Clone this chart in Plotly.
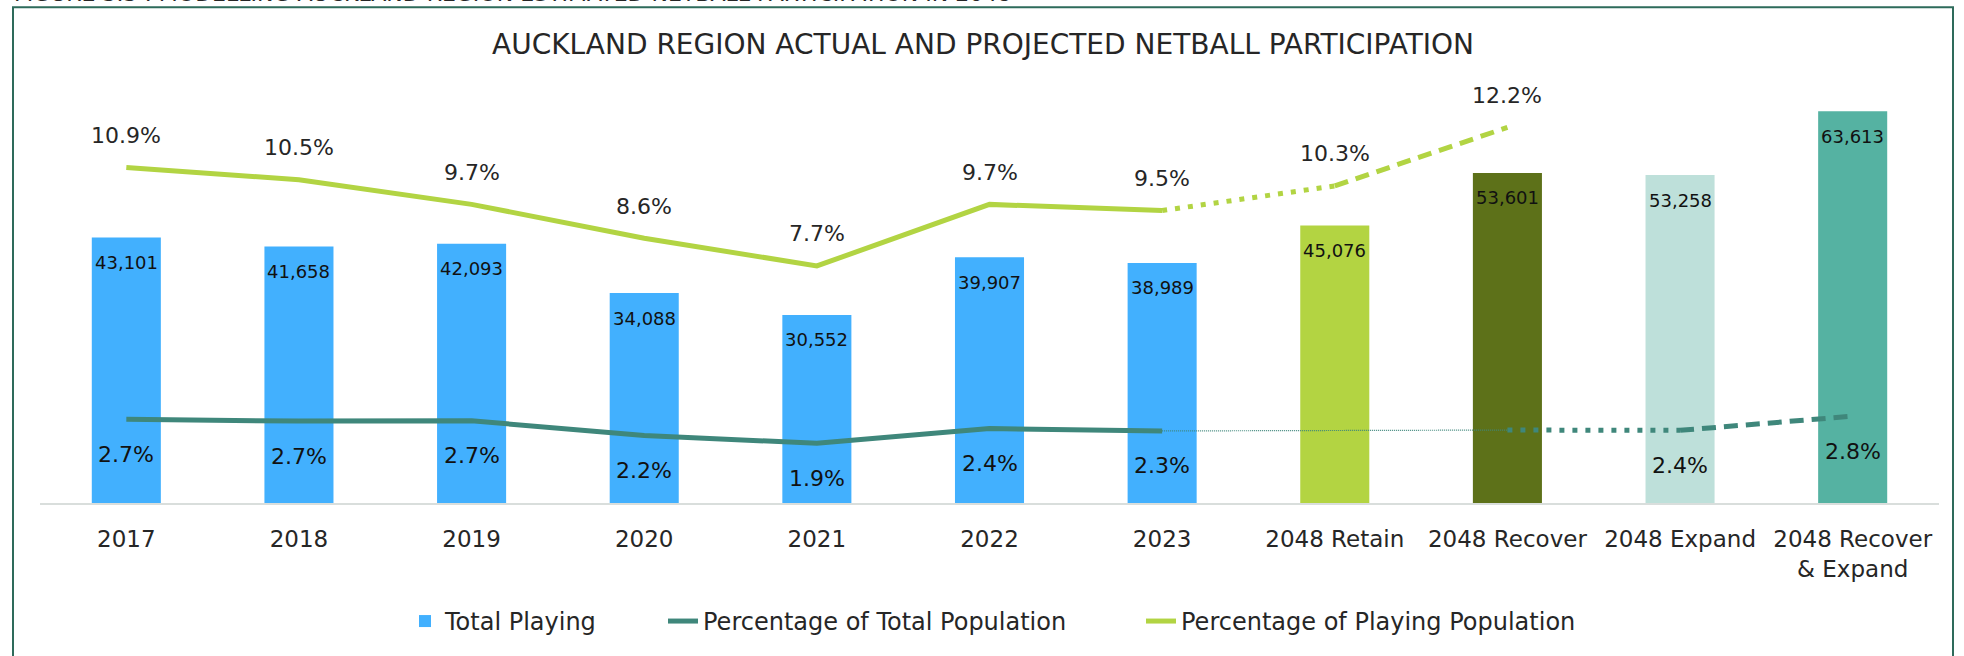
import plotly.graph_objects as go

# ---------------- data ----------------
categories = ["2017", "2018", "2019", "2020", "2021", "2022", "2023",
              "2048 Retain", "2048 Recover", "2048 Expand", "2048 Recover<br>& Expand"]
total_playing = [43101, 41658, 42093, 34088, 30552, 39907, 38989,
                 45076, 53601, 53258, 63613]
bar_colors = ["#42B0FE"] * 7 + ["#B3D442", "#5D7119", "#BEE0DA", "#55B2A2"]

# percentage of total population (None = no point)
pct_total_pop = [2.72, 2.66, 2.67, 2.19, 1.94, 2.42, 2.34, None, 2.37, 2.36, 2.82]
pct_total_labels_idx = [0, 1, 2, 3, 4, 5, 6, 9, 10]

# percentage of playing population
pct_playing_pop = [10.9, 10.5, 9.7, 8.6, 7.7, 9.7, 9.5, 10.3, 12.2, None, None]
pct_playing_labels_idx = [0, 1, 2, 3, 4, 5, 6, 7, 8]

caption = "FIGURE 3.3 : MODELLING AUCKLAND REGION ESTIMATED NETBALL PARTICIPATION IN 2048"
title = "AUCKLAND REGION ACTUAL AND PROJECTED NETBALL PARTICIPATION"

# ---------------- styles ----------------
FONT = "DejaVu Sans"
TXT = "#262626"
TEAL = "#3F877B"
GREEN = "#B2D443"
W, H = 1964, 656
ML, MR, MT, MB = 40, 25, 72, 151
PW, PH = W - ML - MR, H - MT - MB


def px_x(px):
    return (px - ML) / PW


def px_y(py):
    return (H - MB - py) / PH


def seg(vals, i0, i1):
    xs, ys = [], []
    for i in range(i0, i1 + 1):
        if vals[i] is not None:
            xs.append(categories[i])
            ys.append(vals[i])
    return xs, ys


fig = go.Figure()

fig.add_trace(go.Bar(
    x=categories, y=total_playing, name="Total Playing",
    marker=dict(color=bar_colors, line=dict(width=0)),
    yaxis="y", hoverinfo="x+y", legend="legend"))

# Percentage of total population
x, y = seg(pct_total_pop, 0, 6)
fig.add_trace(go.Scatter(x=x, y=y, mode="lines", name="Percentage of Total Population",
                         line=dict(color=TEAL, width=5), yaxis="y2", legend="legend2"))
x, y = seg(pct_total_pop, 6, 8)
fig.add_trace(go.Scatter(x=x, y=y, mode="lines", showlegend=False,
                         line=dict(color=TEAL, width=1.2, dash="1px,1px"), yaxis="y2"))
x, y = seg(pct_total_pop, 8, 9)
fig.add_trace(go.Scatter(x=x, y=y, mode="lines", showlegend=False,
                         line=dict(color=TEAL, width=5, dash="5px,8px"), yaxis="y2"))
x, y = seg(pct_total_pop, 9, 10)
fig.add_trace(go.Scatter(x=x, y=y, mode="lines", showlegend=False,
                         line=dict(color=TEAL, width=5, dash="14px,8px"), yaxis="y2"))

# Percentage of playing population
x, y = seg(pct_playing_pop, 0, 6)
fig.add_trace(go.Scatter(x=x, y=y, mode="lines", name="Percentage of Playing Population",
                         line=dict(color=GREEN, width=5), yaxis="y2", legend="legend3"))
x, y = seg(pct_playing_pop, 6, 7)
fig.add_trace(go.Scatter(x=x, y=y, mode="lines", showlegend=False,
                         line=dict(color=GREEN, width=5, dash="5px,8px"), yaxis="y2"))
x, y = seg(pct_playing_pop, 7, 8)
fig.add_trace(go.Scatter(x=x, y=y, mode="lines", showlegend=False,
                         line=dict(color=GREEN, width=5, dash="14px,8px"), yaxis="y2"))

annotations = []
# on a category axis, annotations take the category's serial number
for i, v in enumerate(total_playing):
    annotations.append(dict(x=i, y=v, xref="x", yref="y", text=f"{v:,}",
                            showarrow=False, yshift=-25, yanchor="middle",
                            font=dict(family=FONT, size=18, color="#111111")))
for i in pct_playing_labels_idx:
    annotations.append(dict(x=i, y=pct_playing_pop[i], xref="x", yref="y2",
                            text=f"{pct_playing_pop[i]:.1f}%", showarrow=False,
                            yshift=32, yanchor="middle",
                            font=dict(family=FONT, size=22, color=TXT)))
for i in pct_total_labels_idx:
    annotations.append(dict(x=i, y=pct_total_pop[i], xref="x", yref="y2",
                            text=f"{pct_total_pop[i]:.1f}%", showarrow=False,
                            yshift=-35, yanchor="middle",
                            font=dict(family=FONT, size=22, color="#111111")))
# clipped caption at very top
annotations.append(dict(x=px_x(12), y=px_y(8), xref="paper", yref="paper", text=caption,
                        showarrow=False, xanchor="left", yanchor="bottom",
                        font=dict(family=FONT, size=22, color=TXT)))

legend_common = dict(orientation="h", yanchor="middle", y=px_y(624), xanchor="left",
                     font=dict(family=FONT, size=24, color=TXT),
                     bgcolor="rgba(0,0,0,0)", borderwidth=0)

fig.update_layout(
    width=W, height=H,
    margin=dict(l=ML, r=MR, t=MT, b=MB, pad=0),
    paper_bgcolor="white", plot_bgcolor="white",
    font=dict(family=FONT, color=TXT),
    title=dict(text=title, x=983 / W, xref="container", xanchor="center",
               y=1 - 44 / H, yref="container", yanchor="middle",
               font=dict(family=FONT, size=28, color=TXT)),
    bargap=0.6,
    showlegend=True,
    legend=dict(legend_common, x=px_x(445 - 40)),
    legend2=dict(legend_common, x=px_x(703 - 40)),
    legend3=dict(legend_common, x=px_x(1181 - 40)),
    xaxis=dict(type="category", categoryorder="array", categoryarray=categories,
               range=[-0.5, len(categories) - 0.5], autorange=False,
               showline=True, linecolor="#D9DEDC", linewidth=2, showgrid=False,
               zeroline=False, ticks="", ticklabelstandoff=14,
               tickfont=dict(family=FONT, size=23, color=TXT)),
    yaxis=dict(range=[0, 70000], visible=False, showgrid=False),
    yaxis2=dict(range=[0, 14], overlaying="y", side="right", visible=False, showgrid=False),
    annotations=annotations,
    shapes=[dict(type="rect", xref="paper", yref="paper",
                 x0=px_x(13), x1=px_x(1953), y0=px_y(720), y1=px_y(7),
                 line=dict(color="#2E6B5B", width=2), fillcolor="rgba(0,0,0,0)",
                 layer="below")],
)

fig.write_html("out.html", config={"displayModeBar": False},
               post_script="document.body.style.margin='0';document.body.style.overflow='hidden';")
